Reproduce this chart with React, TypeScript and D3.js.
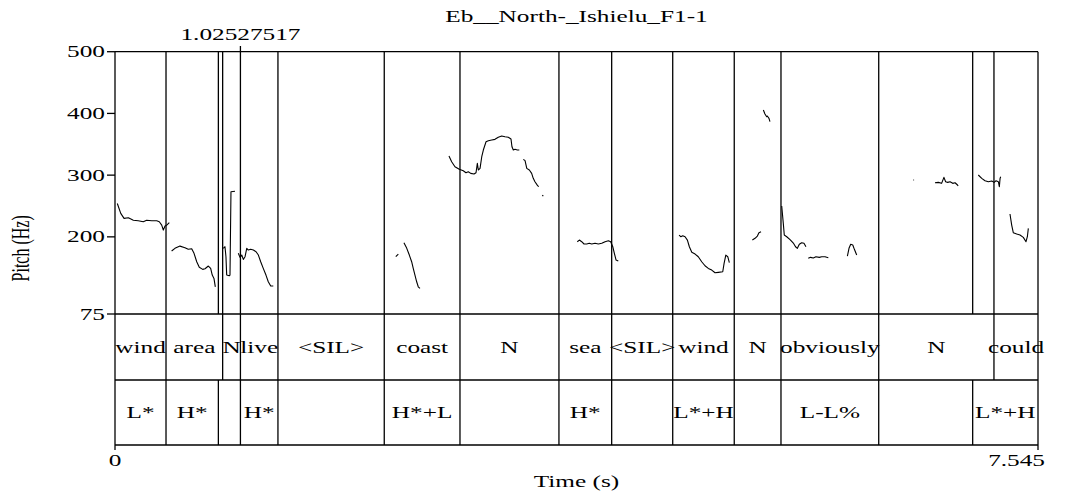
import React from "react";
import * as d3 from "d3";

const title = "Eb__North-_Ishielu_F1-1";
const cursorTime = 1.02527517;
const totalTime = 7.545;
const yTicks = [500, 400, 300, 200, 75];

const wordBounds = [0, 0.417, 0.88, 1.02527517, 1.332, 2.201, 2.82, 3.629, 4.06, 4.559, 5.062, 5.444, 6.243, 7.185, 7.545];
const wordLabels = ["wind", "area", "N", "live", "<SIL>", "coast", "N", "sea", "<SIL>", "wind", "N", "obviously", "N", "could"];
const toneBounds = [0, 0.417, 0.845, 1.02527517, 1.332, 2.201, 2.82, 3.629, 4.06, 4.559, 5.062, 5.444, 6.243, 7.011, 7.545];
const toneLabels = ["L*", "H*", "", "H*", "", "H*+L", "", "H*", "", "L*+H", "", "L-L%", "", "L*+H"];

const pitchWind: [number, number][] = [[0.019,254],[0.047,238],[0.074,230],[0.109,231],[0.15,227],[0.19,226],[0.231,224.5],[0.259,227],[0.3,226],[0.341,226],[0.362,224.5],[0.382,219],[0.395,211],[0.409,217.5],[0.423,219],[0.444,223]];
const pitchArea: [number, number][] = [[0.463,177],[0.49,181.4],[0.531,185],[0.572,182.3],[0.599,179.8],[0.627,180.7],[0.646,173.3],[0.668,159.7],[0.689,150.6],[0.717,147.3],[0.736,148.3],[0.763,152.7],[0.782,148.9],[0.795,138.1],[0.809,132.7],[0.82,119]];
const pitchN1: [number, number][] = [[0.885,181.4],[0.899,184],[0.907,167.8],[0.913,138.1],[0.934,137],[0.94,138.1],[0.948,273],[0.981,274]];
const pitchLive: [number, number][] = [[1.008,173.3],[1.022,166.8],[1.036,170.5],[1.049,163.5],[1.063,167.8],[1.077,181.4],[1.09,178.6],[1.109,179.8],[1.131,178.6],[1.153,175.9],[1.172,170.5],[1.191,159.7],[1.212,148.9],[1.234,138.1],[1.253,127.2],[1.273,120.3],[1.294,120.3]];
const pitchCoastA: [number, number][] = [[2.295,167.8],[2.316,172.1]];
const pitchCoastB: [number, number][] = [[2.362,190.4],[2.385,181.4],[2.406,170.5],[2.425,159.7],[2.438,148.9],[2.452,138.1],[2.466,127.2],[2.479,119.1],[2.493,116.5]];
const pitchN2a: [number, number][] = [[2.73,331],[2.752,321.7],[2.779,313.6],[2.814,309.4],[2.847,307.1],[2.869,303.9],[2.888,305.5],[2.908,302.9],[2.935,301.8],[2.951,303.9],[2.962,319.1],[2.97,308.3],[2.984,311],[2.998,329.8],[3.011,340.7],[3.033,354.1],[3.052,355.8],[3.08,356.9],[3.106,358],[3.133,361.3],[3.161,363.4],[3.188,362.2],[3.215,361.3],[3.237,358.5],[3.245,346],[3.256,340.7],[3.27,341.8],[3.289,340.7],[3.305,340.7]];
const pitchN2b: [number, number][] = [[3.338,325.6],[3.352,323.4],[3.366,311],[3.387,308.3],[3.406,302.9],[3.419,294.8],[3.433,289.3],[3.452,283.9],[3.463,281.2]];
const pitchN2c: [number, number][] = [[3.493,267.8],[3.501,266.1]];
const pitchSea: [number, number][] = [[3.779,192.1],[3.796,194.8],[3.815,192.1],[3.834,188.4],[3.856,188.4],[3.877,189.5],[3.897,188.4],[3.924,189.5],[3.951,188.4],[3.979,189.5],[4.006,192.1],[4.033,193.7],[4.052,192.1],[4.069,184],[4.082,173.3],[4.096,162.4],[4.114,160.8]];
const pitchWind2: [number, number][] = [[4.611,202.9],[4.625,200.2],[4.641,201.8],[4.66,200.2],[4.679,194.8],[4.695,184],[4.715,174.9],[4.742,172.1],[4.768,167.8],[4.796,159.7],[4.823,153.2],[4.85,148.9],[4.878,146.2],[4.905,141.8],[4.932,142.5],[4.968,143.5],[4.979,157.1],[4.993,170.5],[5.009,167.8],[5.022,158.1]];
const pitchN3a: [number, number][] = [[5.21,194.8],[5.232,197.6],[5.251,201.3],[5.264,206.7],[5.281,208.3]];
const pitchN3b: [number, number][] = [[5.3,405.5],[5.313,399],[5.327,394.7],[5.332,395.8],[5.346,392],[5.354,386.6]];
const pitchObv1: [number, number][] = [[5.45,249.9],[5.463,221.9],[5.471,202.9],[5.491,200.2],[5.518,195.6],[5.545,190],[5.563,184],[5.578,181.4],[5.594,187.9],[5.613,190.4],[5.632,189.5],[5.648,184]];
const pitchObv2: [number, number][] = [[5.667,165.2],[5.686,166.8],[5.708,165.7],[5.73,167.8],[5.757,166.8],[5.777,167.8],[5.804,167.8],[5.831,166.2]];
const pitchObv3: [number, number][] = [[5.987,168.9],[6.0,181.4],[6.014,187.9],[6.031,186.7],[6.044,179.8],[6.063,170.5]];
const pitchN4a: [number, number][] = [[6.526,292],[6.532,292]];
const pitchN4b: [number, number][] = [[6.703,287.7],[6.73,288.3],[6.757,286.7],[6.776,296.4],[6.79,289.3],[6.807,288.3],[6.826,289.3],[6.848,286.7],[6.867,287.7],[6.887,284],[6.892,282.4]];
const pitchN4c: [number, number][] = [[7.057,300.2],[7.085,294.8],[7.112,290.9],[7.139,289.3],[7.167,290.4],[7.186,288.3],[7.202,290.9],[7.221,289.3],[7.229,281.2],[7.235,294.8],[7.24,297.4]];
const pitchCould: [number, number][] = [[7.316,237],[7.33,219.1],[7.343,206.7],[7.371,204.6],[7.398,202.9],[7.425,199.2],[7.447,192.1],[7.458,200.2],[7.466,213.8]];

const pitchSegments = [pitchWind, pitchArea, pitchN1, pitchLive, pitchCoastA, pitchCoastB, pitchN2a, pitchN2b, pitchN2c, pitchSea, pitchWind2, pitchN3a, pitchN3b, pitchObv1, pitchObv2, pitchObv3, pitchN4a, pitchN4b, pitchN4c, pitchCould];

const W = 1071, H = 493;
const X0 = 115, X1 = 1038;
const YTOP = 51.7, Y75 = 314, YT1 = 380, YT2 = 445;
const SX = 1.58;
const FONT = "'Liberation Serif', 'Times New Roman', serif";
const FS = 16;
const SW = 1.3;

function SText({ x, y, anchor = "middle", children }: { x: number; y: number; anchor?: string; children: React.ReactNode }) {
  return (
    <text transform={`translate(${x},${y}) scale(${SX},1)`} textAnchor={anchor} fontFamily={FONT} fontSize={FS} fill="#000">
      {children}
    </text>
  );
}

export default function App() {
  const x = d3.scaleLinear().domain([0, totalTime]).range([X0, X1]);
  const y = d3.scaleLinear().domain([75, 500]).range([Y75, YTOP]);
  const line = d3.line<[number, number]>().x((d) => x(d[0])).y((d) => y(d[1]));

  const allBounds = Array.from(new Set([...wordBounds, ...toneBounds])).filter((b) => b > 0 && b < totalTime);

  return (
    <svg width={W} height={H} style={{ position: "absolute", left: 0, top: 0, background: "#fff" }}>
      <rect width={W} height={H} fill="#fff" />
      <SText x={(X0 + X1) / 2} y={21.5}>{title}</SText>
      <SText x={x(cursorTime)} y={40}>{cursorTime.toFixed(8)}</SText>
      <line x1={x(cursorTime)} x2={x(cursorTime)} y1={46} y2={YTOP} stroke="#000" strokeWidth={SW} />

      {/* frame */}
      <g stroke="#000" strokeWidth={SW} fill="none">
        <line x1={X0} x2={X1} y1={YTOP} y2={YTOP} />
        <line x1={X0} x2={X1} y1={Y75} y2={Y75} />
        <line x1={X0} x2={X1} y1={YT1} y2={YT1} />
        <line x1={X0} x2={X1} y1={YT2} y2={YT2} />
        <line x1={X0} x2={X0} y1={YTOP} y2={YT2 + 5} />
        <line x1={X1} x2={X1} y1={YTOP} y2={YT2 + 5} />
        {allBounds.map((b, i) => (
          <line key={"p" + i} x1={x(b)} x2={x(b)} y1={YTOP} y2={Y75} />
        ))}
        {wordBounds.slice(1, -1).map((b, i) => (
          <line key={"w" + i} x1={x(b)} x2={x(b)} y1={Y75} y2={YT1} />
        ))}
        {toneBounds.slice(1, -1).map((b, i) => (
          <line key={"t" + i} x1={x(b)} x2={x(b)} y1={YT1} y2={YT2} />
        ))}
        {yTicks.map((t) => (
          <line key={"yt" + t} x1={X0 - 8} x2={X0} y1={y(t)} y2={y(t)} />
        ))}
      </g>

      {/* pitch */}
      <g stroke="#000" strokeWidth={1.1} fill="none" strokeLinejoin="round">
        {pitchSegments.map((s, i) => (
          <path key={i} d={line(s) || ""} />
        ))}
      </g>

      {yTicks.map((t) => (
        <SText key={"yl" + t} x={X0 - 10} y={y(t) + 5.5} anchor="end">{t}</SText>
      ))}
      <text transform={`translate(${29},${(YTOP + YT2) / 2}) scale(${SX},1) rotate(-90)`} textAnchor="middle" fontFamily={FONT} fontSize={FS} fill="#000">
        Pitch (Hz)
      </text>

      {wordLabels.map((l, i) => (
        <SText key={"wl" + i} x={(x(wordBounds[i]) + x(wordBounds[i + 1])) / 2} y={(Y75 + YT1) / 2 + 5.5}>{l}</SText>
      ))}
      {toneLabels.map((l, i) =>
        l ? (
          <SText key={"tl" + i} x={(x(toneBounds[i]) + x(toneBounds[i + 1])) / 2} y={(YT1 + YT2) / 2 + 5.5}>{l}</SText>
        ) : null
      )}

      <SText x={X0} y={466}>0</SText>
      <SText x={X1 + 7} y={466} anchor="end">{totalTime.toFixed(3)}</SText>
      <SText x={(X0 + X1) / 2} y={487}>Time (s)</SText>
    </svg>
  );
}
